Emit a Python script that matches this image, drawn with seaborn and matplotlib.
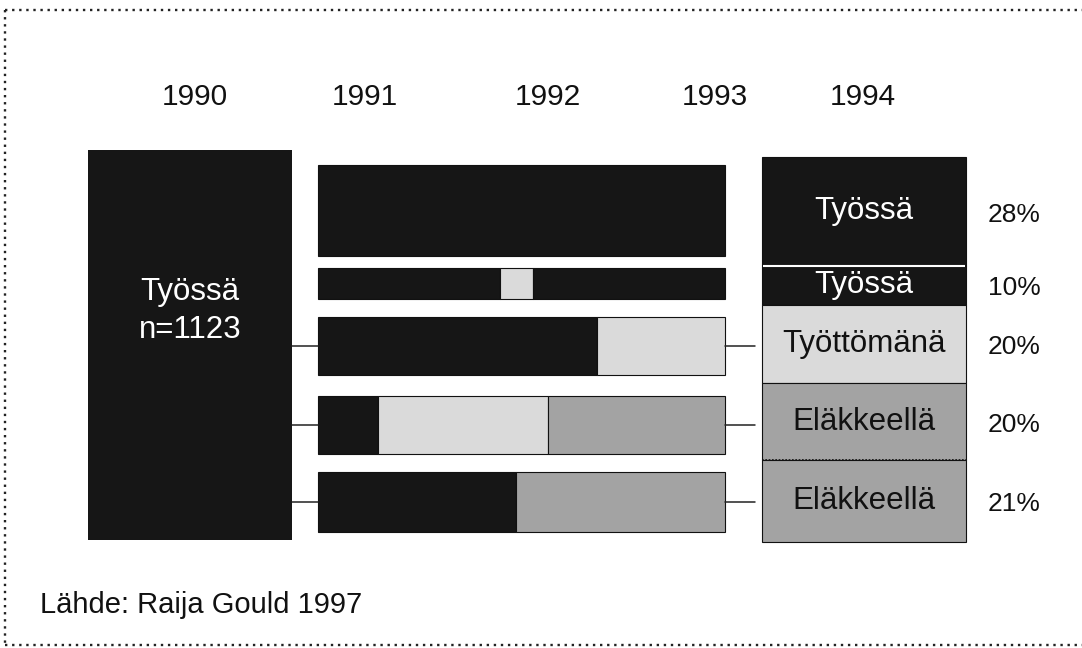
import numpy as np
import matplotlib
matplotlib.use("Agg")
import matplotlib.pyplot as plt
from matplotlib.lines import Line2D
import seaborn as sns

# --- data -------------------------------------------------------------
years = ["1990", "1991", "1992", "1993", "1994"]
start_label = "Työssä\nn=1123"

# 1991-1993 paths, share of the period (%) spent in each state
path_states = [
    ["work"],
    ["work", "unemp", "work"],
    ["work", "unemp"],
    ["work", "unemp", "retired"],
    ["work", "retired"],
]
path_shares = [
    [100],
    [44.7, 8.1, 47.2],
    [68.5, 31.5],
    [14.7, 41.8, 43.5],
    [48.6, 51.4],
]

# situation in 1994
end_labels = ["Työssä", "Työssä", "Työttömänä", "Eläkkeellä", "Eläkkeellä"]
end_states = ["work", "work", "unemp", "retired", "retired"]
end_pct = [28, 10, 20, 20, 21]

source = "Lähde: Raija Gould 1997"

# --- style / layout ---------------------------------------------------
colors = {"work": "#161616", "unemp": "#dadada", "retired": "#a3a3a3"}
text_colors = {"work": "white", "unemp": "#111111", "retired": "#111111"}

year_x = [-30.2, 11.5, 56.5, 97.5, 133.9]
year_y = -15.4
start_x = (-56.5, -6.4)      # left / right of 1990 block
start_y = (-1.8, 98.5)       # top / bottom of 1990 block
end_x = (109.1, 159.2)       # 1994 column
row_center = [13.75, 32.5, 48.6, 68.8, 88.7]
row_height = [23.4, 8.0, 14.9, 14.9, 15.2]
connected_rows = [2, 3, 4]
pct_x = 164.6

sns.set_theme(style="white")
plt.rcParams["font.family"] = ["Liberation Sans", "DejaVu Sans"]

fig = plt.figure(figsize=(10.82, 6.48), dpi=100)
ax = fig.add_axes([0, 0, 1, 1])
ax.set_xlim(-78.13, 187.71)
ax.set_ylim(126.22, -40.36)
ax.axis("off")

# year headers
for x, y in zip(year_x, years):
    ax.text(x, year_y, y, ha="center", va="center", fontsize=21.5, color="#111111")

# 1990 block
ax.bar((start_x[0] + start_x[1]) / 2, start_y[1] - start_y[0], bottom=start_y[0],
       width=start_x[1] - start_x[0], color=colors["work"], linewidth=0)
ax.text((start_x[0] + start_x[1]) / 2, 39.5, start_label, ha="center", va="center",
        fontsize=22.5, color="white", linespacing=1.35)

# 1991-1993 paths
for i, (states, shares) in enumerate(zip(path_states, path_shares)):
    left = np.concatenate([[0], np.cumsum(shares)[:-1]])
    ax.barh(row_center[i], shares, left=left, height=row_height[i],
            color=[colors[s] for s in states], edgecolor="#111111", linewidth=0.8)

# connectors
for i in connected_rows:
    ax.plot([start_x[1], 0], [row_center[i]] * 2, color="#222222", lw=1.1)
    ax.plot([100, 107.4], [row_center[i]] * 2, color="#222222", lw=1.1)

# 1994 column
bottoms = np.concatenate([[0], np.cumsum(end_pct)[:-1]])
ax.bar((end_x[0] + end_x[1]) / 2, end_pct, bottom=bottoms, width=end_x[1] - end_x[0],
       color=[colors[s] for s in end_states], edgecolor="#111111", linewidth=0.8)
ax.hlines(bottoms[1], end_x[0] + 0.2, end_x[1] - 0.2, color="white", lw=1.5)
ax.hlines(bottoms[4], end_x[0], end_x[1], color="#111111", lw=1.2, linestyles=(0, (1, 1)))
for b, p, lab, s in zip(bottoms, end_pct, end_labels, end_states):
    yc = b + p / 2
    ax.text((end_x[0] + end_x[1]) / 2, yc, lab, ha="center", va="center",
            fontsize=22.5, color=text_colors[s])
    ax.text(pct_x, yc + 0.8, f"{p}%", ha="left", va="center", fontsize=19, color="#111111")

fig.text(40 / 1082, 1 - 605 / 648, source, ha="left", va="center", fontsize=21,
         color="#111111")

# dotted frame
dot = dict(color="#222222", lw=1.7, linestyle=(0, (1, 2)))
fig.add_artist(Line2D([5 / 1082, 1.0], [1 - 10 / 648] * 2, **dot))
fig.add_artist(Line2D([5 / 1082] * 2, [1 - 10 / 648, 1 - 645 / 648], **dot))
fig.add_artist(Line2D([5 / 1082, 1.0], [1 - 645 / 648] * 2, **dot))

fig.savefig("out.png", dpi=100, facecolor="white")
